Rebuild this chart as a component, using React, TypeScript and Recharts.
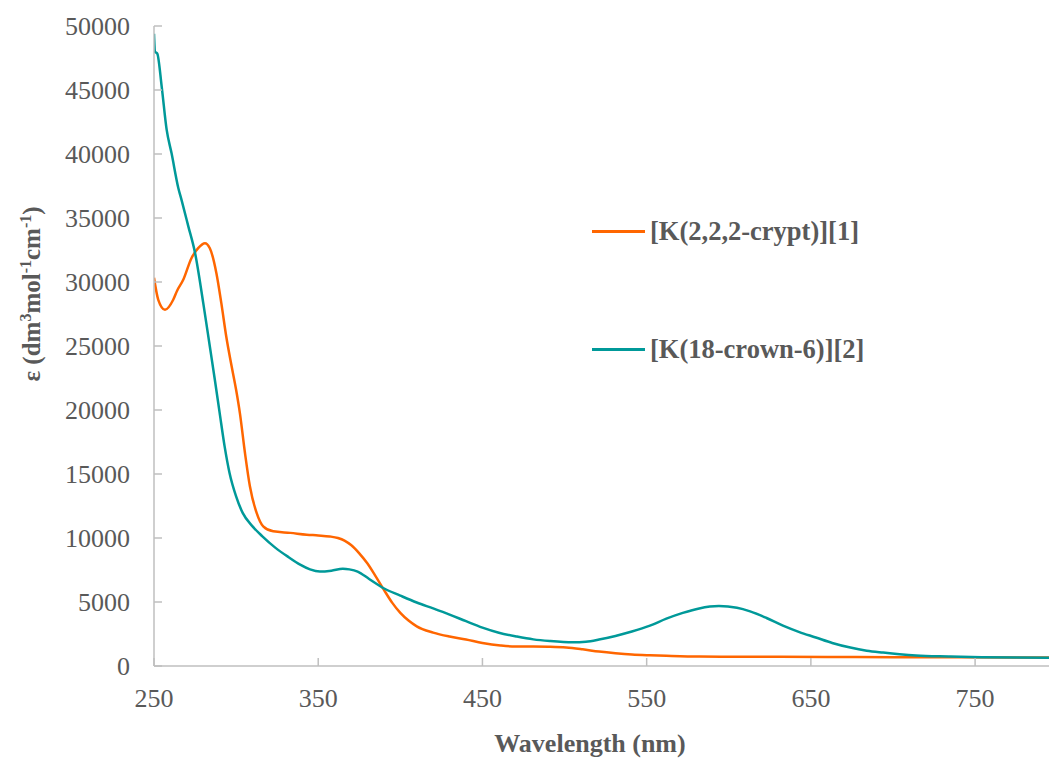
import { LineChart, Line, XAxis, YAxis, Legend } from "recharts";

// UV-vis absorption spectra, molar absorptivity vs wavelength
const cryptWavelength = [
  250, 252.6, 256.7, 261.7, 264, 267.8, 272.8, 276.9, 281, 284, 288, 291, 294,
  297.3, 300, 302.3, 305.4, 308.4, 312.5, 316.5, 322.6, 333, 343, 350, 357, 362,
  366, 370, 375, 380, 385, 390, 395, 400, 405, 410, 420, 430, 440, 450, 461, 470,
  481, 490, 501, 511, 521, 531, 541, 552, 562, 582, 620, 660, 700, 740, 795,
];
const cryptEpsilon = [
  30330, 28610, 27830, 28610, 29300, 30170, 31860, 32640, 33030, 32640, 30690,
  28350, 25740, 23400, 21580, 19760, 16640, 14040, 11960, 10910, 10520, 10400,
  10260, 10200, 10120, 10000, 9800, 9450, 8800, 8000, 7000, 5950, 4950, 4150,
  3550, 3100, 2610, 2300, 2070, 1800, 1600, 1520, 1520, 1500, 1440, 1300, 1130,
  1000, 900, 840, 800, 740, 720, 700, 690, 680, 660,
];

const crownWavelength = [
  250, 250.6, 252, 254.7, 257.7, 260.7, 264.8, 266.8, 270.9, 275, 280, 284, 287,
  290, 293, 296, 300, 304, 310, 316, 324, 332, 339, 345, 351, 358, 365, 369, 374,
  381, 389, 400, 410, 420, 430, 440, 450, 460, 471, 481, 491, 505, 513, 521, 531,
  541, 552, 562, 572, 582, 594, 605, 613, 623, 633, 643, 653, 663, 674, 684, 694,
  704, 714, 734, 754, 775, 795,
];
const crownEpsilon = [
  49400, 48000, 47850, 45250, 41900, 40050, 37350, 36400, 34350, 32270, 28350,
  24960, 22400, 19760, 17160, 15080, 13250, 11960, 10910, 10130, 9230, 8500,
  7920, 7550, 7380, 7450, 7600, 7550, 7380, 6800, 6130, 5500, 4960, 4500, 4020,
  3500, 3000, 2600, 2300, 2080, 1950, 1850, 1900, 2070, 2350, 2690, 3150, 3700,
  4150, 4500, 4680, 4550, 4270, 3750, 3150, 2650, 2230, 1800, 1440, 1200, 1050,
  920, 820, 740, 680, 660, 650,
];

const xTicks = [250, 350, 450, 550, 650, 750];
const yTicks = [0, 5000, 10000, 15000, 20000, 25000, 30000, 35000, 40000, 45000, 50000];

const cryptData = cryptWavelength.map((wl, i) => ({ wl, eps: cryptEpsilon[i] }));
const crownData = crownWavelength.map((wl, i) => ({ wl, eps: crownEpsilon[i] }));

const series = [
  { name: "[K(2,2,2-crypt)][1]", color: "#FF6600", data: cryptData },
  { name: "[K(18-crown-6)][2]", color: "#009999", data: crownData },
];

const SERIF = "'Liberation Serif', 'Times New Roman', serif";
const TEXT_GREY = "#595959";
const AXIS_GREY = "#BFBFBF";

const XTick = (props: any) => {
  const { x, y, payload } = props;
  return (
    <g>
      <line x1={x} x2={x} y1={y} y2={y - 8} stroke={AXIS_GREY} strokeWidth={1.5} />
      <text x={x} y={y + 41} textAnchor="middle" fill={TEXT_GREY} fontSize={26} fontFamily={SERIF}>
        {payload.value}
      </text>
    </g>
  );
};

const YTick = (props: any) => {
  const { x, y, payload } = props;
  return (
    <g>
      <line x1={x} x2={x + 8} y1={y} y2={y} stroke={AXIS_GREY} strokeWidth={1.5} />
      <text x={x - 24} y={y + 9} textAnchor="end" fill={TEXT_GREY} fontSize={26} fontFamily={SERIF}>
        {payload.value}
      </text>
    </g>
  );
};

const XTitle = () => (
  <text x={590} y={752} textAnchor="middle" fill={TEXT_GREY} fontSize={26} fontWeight="bold" fontFamily={SERIF}>
    Wavelength (nm)
  </text>
);

const YTitle = () => (
  <text
    x={40}
    y={294}
    transform="rotate(-90, 40, 294)"
    textAnchor="middle"
    fill={TEXT_GREY}
    fontSize={25}
    fontWeight="bold"
    fontFamily={SERIF}
  >
    ε (dm
    <tspan dy={-9} fontSize={16}>3</tspan>
    <tspan dy={9}>mol</tspan>
    <tspan dy={-9} fontSize={16}>-1</tspan>
    <tspan dy={9}>cm</tspan>
    <tspan dy={-9} fontSize={16}>-1</tspan>
    <tspan dy={9}>)</tspan>
  </text>
);

const SpectraLegend = () => (
  <div style={{ fontFamily: SERIF, fontWeight: "bold", fontSize: 26.5, color: TEXT_GREY }}>
    {series.map((s, i) => (
      <div
        key={s.name}
        style={{
          display: "flex",
          alignItems: "center",
          height: 36,
          marginBottom: i === 0 ? 82 : 0,
          whiteSpace: "nowrap",
        }}
      >
        <span style={{ display: "inline-block", width: 53, height: 3, background: s.color, marginRight: 5 }} />
        <span>{s.name}</span>
      </div>
    ))}
  </div>
);

export default function App() {
  return (
    <div style={{ position: "absolute", left: 0, top: 0, width: 1049, height: 762, background: "#fff" }}>
      <LineChart width={1049} height={762} margin={{ top: 26, right: 0, bottom: 0, left: 0 }}>
        <XAxis
          type="number"
          dataKey="wl"
          domain={[250, 795]}
          ticks={xTicks}
          allowDataOverflow
          height={96}
          tickSize={0}
          tickMargin={0}
          tickLine={false}
          axisLine={{ stroke: AXIS_GREY, strokeWidth: 1.5 }}
          tick={<XTick />}
          label={{ content: () => <XTitle /> }}
        />
        <YAxis
          type="number"
          domain={[0, 50000]}
          ticks={yTicks}
          width={154}
          tickSize={0}
          tickMargin={0}
          tickLine={false}
          axisLine={{ stroke: AXIS_GREY, strokeWidth: 1.5 }}
          tick={<YTick />}
          label={{ content: () => <YTitle /> }}
        />
        <Legend
          layout="vertical"
          align="center"
          verticalAlign="middle"
          content={() => <SpectraLegend />}
          wrapperStyle={{ left: 592, top: 213, width: 320 }}
        />
        {series.map((s) => (
          <Line
            key={s.name}
            name={s.name}
            data={s.data}
            dataKey="eps"
            type="monotone"
            stroke={s.color}
            strokeWidth={2.5}
            dot={false}
            activeDot={false}
            isAnimationActive={false}
          />
        ))}
      </LineChart>
    </div>
  );
}
